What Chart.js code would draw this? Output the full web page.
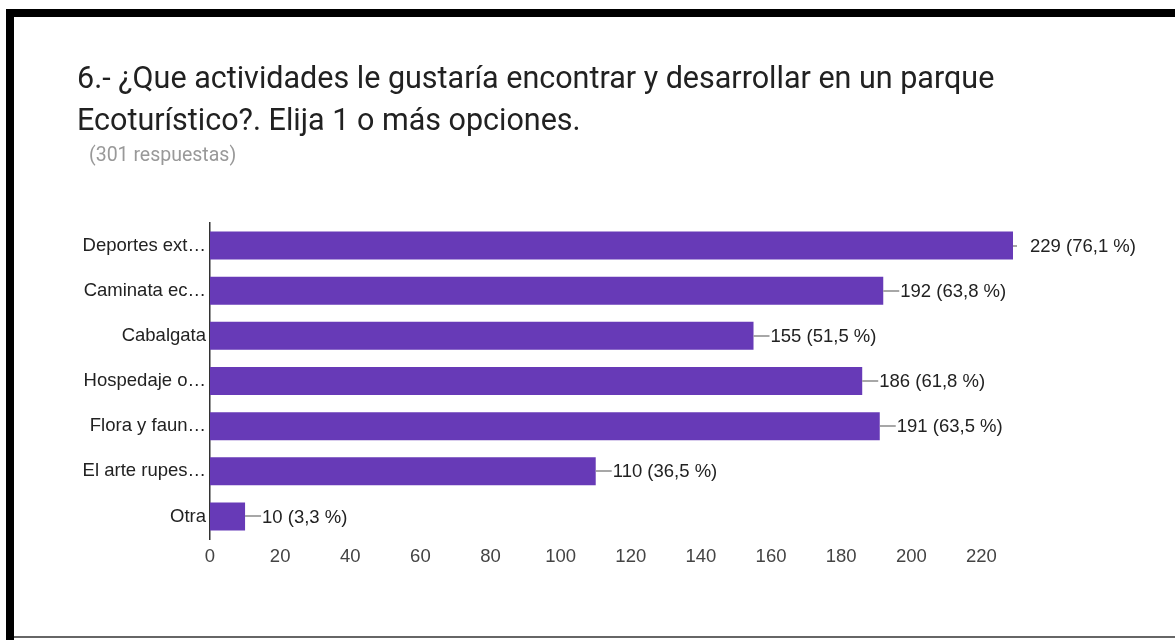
<!DOCTYPE html>
<html>
<head>
<meta charset="utf-8">
<script src="https://cdn.jsdelivr.net/npm/chart.js@4/dist/chart.umd.min.js"></script>
<style>
  html, body { margin: 0; padding: 0; background: #fff; }
  #wrap { position: relative; width: 1175px; height: 640px; overflow: hidden; }
  #frameTop { position: absolute; left: 6px; top: 9px; width: 1169px; height: 8px; background: #000; }
  #frameLeft { position: absolute; left: 6px; top: 9px; width: 8px; height: 631px; background: #000; }
  #frameBottom { position: absolute; left: 14px; top: 636px; width: 1161px; height: 2px; background: #666; }
  #title { position: absolute; left: 77px; top: 57px; font-family: Roboto, Arial, sans-serif; font-size: 30.5px; line-height: 42px; color: #212121; }
  #subtitle { position: absolute; left: 89px; top: 143px; font-family: Roboto, Arial, sans-serif; font-size: 19.5px; color: #999; }
  #chartBox { position: absolute; left: 0; top: 0; width: 1175px; height: 640px; }
</style>
</head>
<body>
<div id="wrap">
  <div id="chartBox"><canvas id="chart" width="1175" height="640"></canvas></div>
  <div id="frameTop"></div>
  <div id="frameLeft"></div>
  <div id="frameBottom"></div>
  <div id="title">6.- ¿Que actividades le gustaría encontrar y desarrollar en un parque<br>Ecoturístico?. Elija 1 o más opciones.</div>
  <div id="subtitle">(301 respuestas)</div>
</div>
<script>
const categories = ['Deportes ext…', 'Caminata ec…', 'Cabalgata', 'Hospedaje o…', 'Flora y faun…', 'El arte rupes…', 'Otra'];
const counts = [229, 192, 155, 186, 191, 110, 10];
const percents = ['76,1', '63,8', '51,5', '61,8', '63,5', '36,5', '3,3'];

const FONT = '"Liberation Sans", Arial, sans-serif';

// leader line + "n (p %)" label to the right of each bar
const valueLabels = {
  id: 'valueLabels',
  afterDatasetsDraw(chart) {
    const ctx = chart.ctx;
    const area = chart.chartArea;
    const meta = chart.getDatasetMeta(0);
    ctx.save();
    meta.data.forEach((bar, i) => {
      const x = bar.x;
      const y = bar.y;
      ctx.strokeStyle = '#8a8a8a';
      ctx.lineWidth = 1.5;
      ctx.beginPath();
      ctx.moveTo(x, Math.round(y));
      ctx.lineTo(Math.min(x + 16, area.right + 4), Math.round(y));
      ctx.stroke();
      ctx.fillStyle = '#222';
      ctx.font = '18.5px ' + FONT;
      ctx.textAlign = 'left';
      ctx.textBaseline = 'middle';
      ctx.fillText(counts[i] + ' (' + percents[i] + ' %)', x + 17, y + 1);
    });
    ctx.restore();
  }
};

new Chart(document.getElementById('chart'), {
  type: 'bar',
  data: {
    labels: categories,
    datasets: [{
      data: counts,
      backgroundColor: '#673ab7',
      borderWidth: 0,
      categoryPercentage: 0.62,
      barPercentage: 1.0
    }]
  },
  options: {
    indexAxis: 'y',
    responsive: false,
    animation: false,
    layout: { padding: { left: 0, right: 162, top: 223, bottom: 0 } },
    plugins: {
      legend: { display: false },
      tooltip: { enabled: false },
      title: { display: false }
    },
    scales: {
      x: {
        min: 0,
        max: 229,
        afterBuildTicks(scale) {
          scale.ticks = [0, 20, 40, 60, 80, 100, 120, 140, 160, 180, 200, 220].map(v => ({ value: v }));
        },
        afterFit(scale) { scale.height = 101; },
        grid: { display: false, drawTicks: false },
        border: { display: false },
        ticks: {
          padding: 7,
          color: '#444',
          font: { family: FONT, size: 18.5 }
        }
      },
      y: {
        afterFit(scale) { scale.width = 210; },
        grid: { display: false, drawTicks: false },
        border: { display: true, color: '#333', width: 1.5 },
        ticks: {
          padding: 4,
          color: '#222',
          font: { family: FONT, size: 18.5 }
        }
      }
    }
  },
  plugins: [valueLabels]
});
</script>
</body>
</html>
